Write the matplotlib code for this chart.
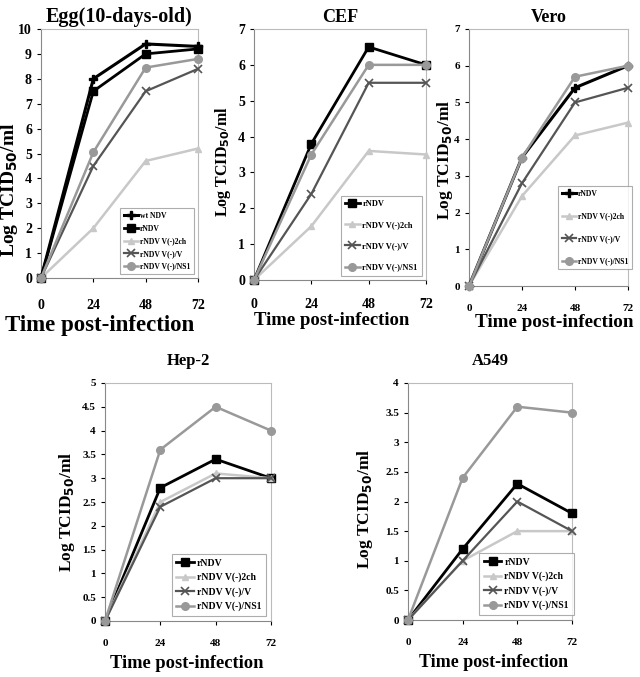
import matplotlib
matplotlib.use("Agg")
import matplotlib.pyplot as plt

plt.rcParams['font.family'] = ['Liberation Serif', 'DejaVu Serif']
plt.rcParams['font.weight'] = 'bold'

hours = [0, 24, 48, 72]

# Egg (10-days-old)
egg_wt = [0, 8.0, 9.4, 9.3]
egg_rndv = [0, 7.5, 9.0, 9.2]
egg_2ch = [0, 2.0, 4.7, 5.2]
egg_v = [0, 4.5, 7.5, 8.4]
egg_ns1 = [0, 5.05, 8.45, 8.8]

# CEF
cef_rndv = [0, 3.8, 6.5, 6.0]
cef_2ch = [0, 1.5, 3.6, 3.5]
cef_v = [0, 2.4, 5.5, 5.5]
cef_ns1 = [0, 3.5, 6.0, 6.0]

# Vero
vero_rndv = [0, 3.5, 5.4, 6.0]
vero_2ch = [0, 2.45, 4.1, 4.45]
vero_v = [0, 2.8, 5.0, 5.4]
vero_ns1 = [0, 3.5, 5.7, 6.0]

# Hep-2
hep_rndv = [0, 2.8, 3.4, 3.0]
hep_2ch = [0, 2.5, 3.1, 3.0]
hep_v = [0, 2.4, 3.0, 3.0]
hep_ns1 = [0, 3.6, 4.5, 4.0]

# A549
a549_rndv = [0, 1.2, 2.3, 1.8]
a549_2ch = [0, 1.0, 1.5, 1.5]
a549_v = [0, 1.0, 2.0, 1.5]
a549_ns1 = [0, 2.4, 3.6, 3.5]

lbl_wt = "wt NDV"
lbl_rndv = "rNDV"
lbl_2ch = "rNDV V(-)2ch"
lbl_v = "rNDV V(-)/V"
lbl_ns1 = "rNDV V(-)/NS1"

W, H = 640, 677
fig = plt.figure(figsize=(W / 100, H / 100), dpi=100)


def px_axes(x0, x1, ytop, ybot):
    return fig.add_axes([x0 / W, 1 - ybot / H, (x1 - x0) / W, (ybot - ytop) / H])


styles = {
    "wt": dict(color="black", marker="P", ms=6, lw=2.2),
    "rndv": dict(color="black", marker="s", ms=6, lw=2.0),
    "2ch": dict(color="#c8c8c8", marker="^", ms=5, lw=1.8),
    "v": dict(color="#555555", marker="x", ms=6, lw=1.6, mew=1.2),
    "ns1": dict(color="#999999", marker="o", ms=5.5, lw=1.8),
}


def panel(ax, title, series, ymax, ystep, yfmt, fs_title, fs_xlab, fs_ylab, fs_tick,
          xpad, tpad, lpad, xlab_x, ylab_xy, leg_fs, leg_sp, leg_anchor):
    for key, vals, lab in series:
        ax.plot(hours, vals, label=lab, clip_on=False, zorder=3, **styles[key])
    ax.set_xlim(0, 72)
    ax.set_ylim(0, ymax)
    ax.set_xticks(hours)
    n = int(round(ymax / ystep))
    yt = [i * ystep for i in range(n + 1)]
    ax.set_yticks(yt)
    ax.set_yticklabels([yfmt(v) for v in yt])
    ax.tick_params(labelsize=fs_tick, length=3, width=0.8)
    ax.tick_params(axis="x", pad=xpad)
    for s in ["top", "right"]:
        ax.spines[s].set_color("#bbbbbb")
        ax.spines[s].set_linewidth(0.8)
    ax.spines["left"].set_color("#888888")
    ax.spines["bottom"].set_color("#888888")
    ax.set_title(title, fontsize=fs_title, fontweight="bold", pad=tpad)
    ax.set_xlabel("Time post-infection", fontsize=fs_xlab, fontweight="bold", labelpad=lpad)
    ax.xaxis.label.set_x(xlab_x)
    ax.set_ylabel("Log TCID$_{\\mathbf{50}}$/ml", fontsize=fs_ylab, fontweight="bold")
    ax.yaxis.set_label_coords(*ylab_xy)
    leg = ax.legend(loc="lower right", bbox_to_anchor=leg_anchor, fontsize=leg_fs,
                    frameon=True, fancybox=False, edgecolor="#999999", handlelength=1.8,
                    borderpad=0.5, labelspacing=leg_sp, handletextpad=0.3)
    leg.get_frame().set_linewidth(0.8)


def fint(v):
    return "%d" % v


def fhalf(v):
    return "%g" % v


ax1 = px_axes(41, 198, 29, 278)
panel(ax1, "Egg(10-days-old)",
      [("wt", egg_wt, lbl_wt), ("rndv", egg_rndv, lbl_rndv), ("2ch", egg_2ch, lbl_2ch),
       ("v", egg_v, lbl_v), ("ns1", egg_ns1, lbl_ns1)],
      10, 1, fint, 14.5, 16.5, 14, 10, 12, 5, 2, 0.376, (-0.134, 0.353),
      5.5, 0.6, (1.0, 0.0))

ax2 = px_axes(254, 426, 29, 280)
panel(ax2, "CEF",
      [("rndv", cef_rndv, lbl_rndv), ("2ch", cef_2ch, lbl_2ch),
       ("v", cef_v, lbl_v), ("ns1", cef_ns1, lbl_ns1)],
      7, 1, fint, 13, 13.5, 11.5, 10, 10, 5, 1, 0.45, (-0.122, 0.47),
      6, 1.6, (1.0, 0.0))

ax3 = px_axes(469, 628, 29, 286)
panel(ax3, "Vero",
      [("wt", vero_rndv, lbl_rndv), ("2ch", vero_2ch, lbl_2ch),
       ("v", vero_v, lbl_v), ("ns1", vero_ns1, lbl_ns1)],
      7, 1, fint, 13, 13.8, 12.5, 8, 10, 5, 1, 0.535, (-0.088, 0.49),
      5.5, 1.9, (1.05, 0.05))

ax4 = px_axes(105, 271, 383, 621)
panel(ax4, "Hep-2",
      [("rndv", hep_rndv, lbl_rndv), ("2ch", hep_2ch, lbl_2ch),
       ("v", hep_v, lbl_v), ("ns1", hep_ns1, lbl_ns1)],
      5, 0.5, fhalf, 12, 13.3, 12.5, 8, 10, 13, 5, 0.49, (-0.169, 0.46),
      7, 0.5, (1.0, 0.0))

ax5 = px_axes(408, 572, 383, 620)
panel(ax5, "A549",
      [("rndv", a549_rndv, lbl_rndv), ("2ch", a549_2ch, lbl_2ch),
       ("v", a549_v, lbl_v), ("ns1", a549_ns1, lbl_ns1)],
      4, 0.5, fhalf, 12, 13, 12.5, 8, 10, 13, 5, 0.52, (-0.2, 0.47),
      7, 0.5, (1.04, 0.0))

fig.savefig("out.png", dpi=100)
